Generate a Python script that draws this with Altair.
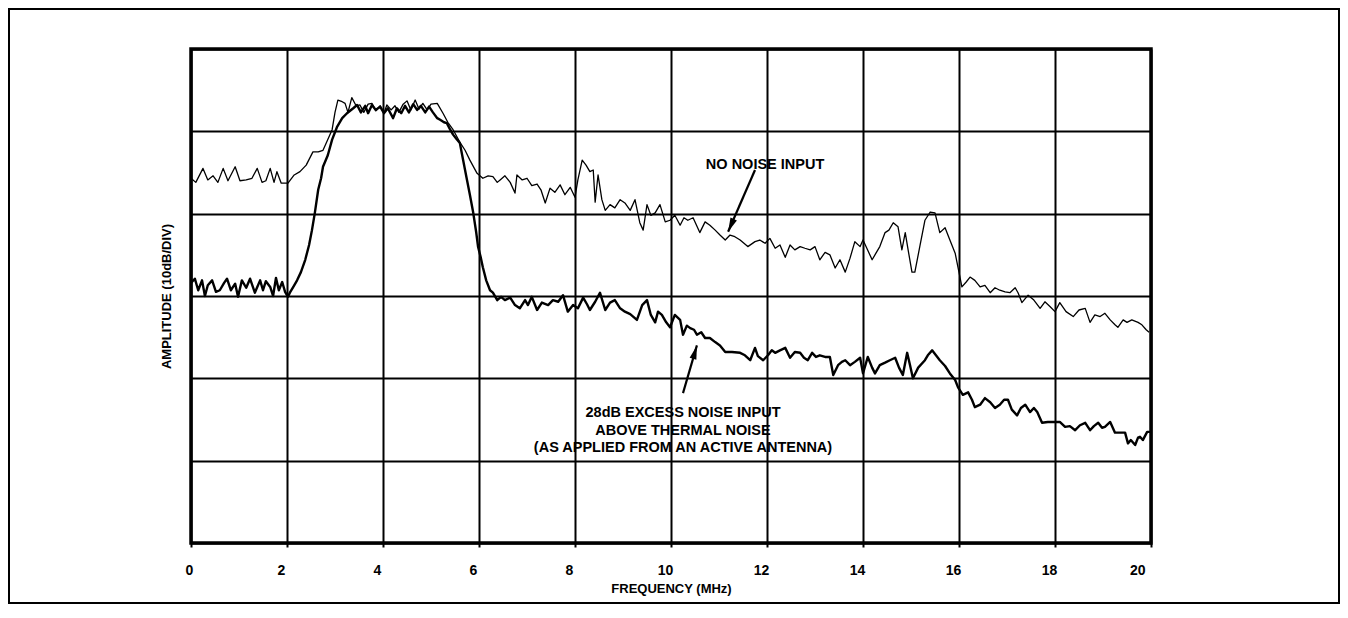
import altair as alt
import pandas as pd

# ---------------- data ----------------
freq_ticks = [0, 2, 4, 6, 8, 10, 12, 14, 16, 18, 20]
amp_grid = [0, 10, 20, 30, 40, 50, 60]  # 10 dB per division (no labels shown)

no_noise_mhz = [
    0.00, 0.10, 0.25, 0.35, 0.46, 0.56, 0.67, 0.77, 0.92, 1.02, 1.15, 1.27, 1.38, 1.48, 1.56, 1.65, 1.73, 1.79, 1.88, 2.02,
    2.15, 2.27, 2.40, 2.54, 2.65, 2.75, 2.85, 2.94, 3.00, 3.06, 3.15, 3.21, 3.27, 3.35, 3.44, 3.52, 3.60, 3.69, 3.77, 3.85,
    3.94, 4.02, 4.08, 4.17, 4.25, 4.33, 4.42, 4.50, 4.58, 4.67, 4.75, 4.83, 4.92, 5.00, 5.13, 5.25, 5.35, 5.46, 5.60, 5.71,
    5.81, 5.96, 6.08, 6.19, 6.29, 6.38, 6.44, 6.54, 6.65, 6.75, 6.79, 6.90, 7.00, 7.10, 7.21, 7.29, 7.38, 7.48, 7.58, 7.69,
    7.79, 7.90, 8.00, 8.06, 8.15, 8.23, 8.31, 8.38, 8.42, 8.48, 8.56, 8.63, 8.73, 8.83, 8.94, 9.04, 9.15, 9.25, 9.35, 9.42,
    9.50, 9.58, 9.67, 9.77, 9.88, 9.98, 10.08, 10.19, 10.27, 10.35, 10.46, 10.60, 10.71, 10.81, 10.92, 11.02, 11.13, 11.23,
    11.33, 11.44, 11.60, 11.75, 11.85, 11.96, 12.06, 12.17, 12.27, 12.38, 12.48, 12.58, 12.69, 12.79, 12.90, 13.00, 13.10,
    13.21, 13.31, 13.42, 13.52, 13.63, 13.73, 13.83, 13.94, 14.00, 14.08, 14.19, 14.27, 14.35, 14.46, 14.54, 14.63, 14.73,
    14.81, 14.88, 14.94, 15.02, 15.08, 15.19, 15.29, 15.40, 15.50, 15.60, 15.71, 15.81, 15.92, 16.02, 16.06, 16.15, 16.23,
    16.33, 16.44, 16.54, 16.65, 16.75, 16.85, 16.96, 17.06, 17.17, 17.23, 17.31, 17.44, 17.56, 17.69, 17.79, 17.90, 18.00,
    18.10, 18.23, 18.38, 18.50, 18.63, 18.73, 18.83, 18.94, 19.04, 19.15, 19.25, 19.31, 19.42, 19.50, 19.60, 19.73, 19.81,
    19.90, 19.96,
]
no_noise_db = [
    44.3, 43.8, 45.5, 44.1, 44.6, 43.8, 45.5, 44.0, 45.7, 44.0, 44.1, 44.3, 45.5, 43.8, 44.0, 45.5, 43.8, 45.1, 43.7, 43.7,
    44.7, 45.1, 45.9, 47.5, 47.5, 47.7, 49.0, 50.2, 52.3, 53.8, 53.6, 53.4, 52.3, 54.1, 53.1, 53.2, 52.3, 53.3, 53.4, 52.5,
    53.1, 52.2, 53.2, 52.6, 53.1, 52.3, 53.3, 53.7, 52.6, 53.8, 52.7, 53.4, 52.6, 53.3, 53.4, 52.2, 51.1, 50.2, 48.7, 47.7,
    46.5, 44.9, 44.3, 44.6, 44.5, 43.8, 44.1, 44.6, 43.8, 42.5, 44.7, 44.1, 44.3, 43.4, 43.6, 42.9, 41.3, 43.1, 42.6, 43.5,
    42.3, 43.2, 42.0, 44.1, 46.5, 45.9, 45.1, 45.3, 41.4, 44.7, 41.7, 40.4, 41.1, 40.7, 41.7, 41.3, 40.4, 41.7, 38.9, 38.0,
    41.1, 39.8, 40.1, 41.1, 39.0, 39.2, 39.8, 38.6, 39.5, 39.2, 39.5, 37.7, 39.0, 38.6, 38.0, 37.4, 36.8, 37.4,
    37.2, 36.8, 36.0, 36.6, 36.8, 36.4, 37.0, 35.8, 36.2, 34.7, 36.2, 35.6, 36.0, 35.8, 35.6, 36.0, 34.4,
    35.3, 35.0, 33.4, 34.4, 32.9, 34.6, 36.6, 36.0, 36.8, 35.8, 34.4, 35.2, 36.0, 37.7, 38.0, 38.9, 38.4,
    35.6, 37.7, 35.6, 32.9, 32.9, 36.2, 39.2, 40.2, 40.1, 37.7, 38.3, 36.8, 35.2, 32.3, 31.1, 31.7, 32.3,
    31.9, 31.1, 31.3, 30.4, 31.0, 30.7, 30.5, 30.4, 31.0, 30.4, 29.2, 30.1, 29.5, 28.5, 29.3, 28.7, 28.1,
    29.2, 28.1, 27.5, 28.3, 28.5, 26.8, 27.7, 27.5, 27.9, 27.1, 26.5, 26.2, 27.1, 26.8, 27.1, 26.8, 26.5,
    25.9, 25.6,
]

excess_mhz = [
    0.00, 0.08, 0.15, 0.23, 0.29, 0.35, 0.44, 0.52, 0.60, 0.69, 0.75, 0.83, 0.92, 0.98, 1.06, 1.15, 1.23, 1.33, 1.44, 1.50,
    1.56, 1.65, 1.71, 1.77, 1.83, 1.90, 1.96, 2.02, 2.06, 2.15, 2.21, 2.29, 2.38, 2.46, 2.52, 2.58, 2.65, 2.71, 2.75, 2.85,
    2.94, 3.04, 3.15, 3.25, 3.38, 3.46, 3.54, 3.63, 3.69, 3.77, 3.85, 3.94, 4.02, 4.10, 4.21, 4.29, 4.38, 4.46, 4.54, 4.63,
    4.71, 4.79, 4.88, 4.96, 5.04, 5.13, 5.19, 5.27, 5.33, 5.40, 5.46, 5.54, 5.60, 5.67, 5.75, 5.81, 5.88, 5.94, 5.98, 6.04,
    6.08, 6.15, 6.23, 6.29, 6.38, 6.46, 6.54, 6.65, 6.75, 6.85, 6.96, 7.02, 7.10, 7.21, 7.31, 7.44, 7.54, 7.65, 7.75, 7.85,
    7.96, 8.06, 8.17, 8.25, 8.31, 8.42, 8.52, 8.63, 8.73, 8.83, 8.94, 9.04, 9.15, 9.29, 9.40, 9.50, 9.58, 9.67, 9.73, 9.81,
    9.90, 9.98, 10.08, 10.19, 10.25, 10.33, 10.40, 10.48, 10.54, 10.63, 10.71, 10.81, 10.92, 11.02, 11.13, 11.27, 11.44,
    11.54, 11.65, 11.75, 11.81, 11.92, 12.02, 12.10, 12.17, 12.27, 12.38, 12.48, 12.58, 12.69, 12.77, 12.85, 12.94, 13.02,
    13.10, 13.21, 13.31, 13.38, 13.48, 13.56, 13.63, 13.73, 13.83, 13.94, 14.00, 14.10, 14.19, 14.25, 14.35, 14.46, 14.56,
    14.67, 14.75, 14.83, 14.92, 14.98, 15.04, 15.15, 15.29, 15.35, 15.44, 15.52, 15.60, 15.71, 15.81, 15.92, 15.98, 16.08,
    16.19, 16.27, 16.33, 16.44, 16.54, 16.65, 16.75, 16.85, 16.94, 17.02, 17.10, 17.21, 17.29, 17.38, 17.48, 17.56, 17.63,
    17.73, 17.85, 18.00, 18.10, 18.21, 18.31, 18.42, 18.52, 18.63, 18.73, 18.81, 18.90, 18.98, 19.04, 19.15, 19.25, 19.35,
    19.46, 19.52, 19.58, 19.67, 19.73, 19.77, 19.83, 19.92, 19.98,
]
excess_db = [
    31.6, 32.1, 30.7, 31.9, 30.0, 31.3, 31.9, 30.5, 30.7, 31.6, 32.1, 30.7, 31.5, 29.9, 31.9, 31.0, 32.1, 30.4, 31.9, 30.7,
    31.8, 31.1, 30.0, 32.2, 30.7, 31.7, 30.5, 29.9, 30.4, 31.3, 31.9, 32.9, 34.4, 36.2, 38.0, 40.1, 42.9, 44.3, 45.7, 47.1,
    49.0, 50.5, 51.6, 52.2, 52.8, 53.2, 52.3, 53.1, 52.2, 53.2, 52.6, 53.0, 52.2, 52.8, 51.6, 52.8, 52.2, 53.1, 52.3, 53.3,
    52.6, 53.1, 52.3, 53.0, 52.3, 51.6, 51.4, 51.1, 51.0, 50.2, 49.6, 49.0, 48.6, 46.5, 44.1, 42.3, 40.1, 37.8, 36.0, 34.6,
    33.5, 31.9, 30.7, 30.4, 29.5, 29.9, 29.5, 29.8, 28.9, 28.5, 29.5, 28.9, 29.9, 28.3, 29.2, 28.9, 29.5, 29.3, 30.1, 28.1,
    28.9, 28.5, 29.8, 29.0, 28.3, 29.3, 30.4, 28.3, 29.2, 29.5, 28.5, 28.1, 27.8, 27.1, 28.9, 29.5, 27.7, 26.8, 28.1, 27.7,
    26.8, 26.2, 27.7, 27.1, 25.3, 26.4, 26.1, 25.9, 25.3, 25.6, 24.9, 24.9, 24.4, 24.0, 23.2, 23.2, 23.1,
    22.8, 22.2, 23.7, 22.7, 22.2, 22.8, 23.4, 23.1, 23.4, 23.7, 22.5, 23.2, 23.1, 22.5, 22.2, 23.1, 22.6,
    22.8, 22.6, 22.6, 20.4, 21.6, 22.0, 22.2, 21.6, 22.0, 22.5, 20.6, 22.6, 21.3, 20.6, 21.6, 21.9, 22.2,
    22.5, 21.3, 20.4, 23.1, 21.6, 20.0, 21.3, 22.2, 22.8, 23.4, 22.8, 22.2, 21.5, 20.6, 19.8, 18.9, 18.0,
    18.3, 17.4, 16.5, 16.8, 17.6, 17.1, 16.4, 16.8, 17.4, 17.4, 16.2, 15.5, 16.4, 16.8, 15.9, 16.4, 15.9,
    14.6, 14.7, 14.7, 14.7, 14.1, 14.2, 13.7, 14.3, 14.6, 13.7, 14.2, 14.6, 14.0, 14.1, 14.7, 13.4, 13.4,
    13.4, 12.1, 12.5, 11.9, 12.8, 12.9, 12.5, 13.5, 13.5,
]

note_text = ["NO NOISE INPUT", "28dB EXCESS NOISE INPUT", "ABOVE THERMAL NOISE",
             "(AS APPLIED FROM AN ACTIVE ANTENNA)"]
note_mhz = [11.96, 10.25, 10.25, 10.25]
note_db = [45.9, 15.8, 13.6, 11.5]

arrow_from_mhz = [11.75, 10.25]
arrow_from_db = [45.3, 18.2]
arrow_to_mhz = [11.19, 10.54]
arrow_to_db = [37.8, 24.0]
arrow_angle = [203.5, 16.3]

# ---------------- tables ----------------
thin = pd.DataFrame({"f": no_noise_mhz, "a": no_noise_db})
thick = pd.DataFrame({"f": excess_mhz, "a": excess_db})
notes = pd.DataFrame({"f": note_mhz, "a": note_db, "t": note_text})
arrows = pd.DataFrame({"f": arrow_from_mhz, "a": arrow_from_db,
                       "f2": arrow_to_mhz, "a2": arrow_to_db, "ang": arrow_angle})
heads = pd.DataFrame({"f": arrow_to_mhz, "a": arrow_to_db, "ang": arrow_angle})

FONT = "Liberation Sans"

x_enc = alt.X("f:Q",
              scale=alt.Scale(domain=[0, 20], nice=False, zero=False),
              axis=alt.Axis(values=freq_ticks, title="FREQUENCY (MHz)", format="d",
                            grid=True, domain=False, ticks=True, tickSize=4,
                            tickWidth=2, tickColor="black", labelPadding=16,
                            labelOffset=-6, titlePadding=5))
y_enc = alt.Y("a:Q",
              scale=alt.Scale(domain=[0, 60], nice=False, zero=False),
              axis=alt.Axis(values=amp_grid, title="AMPLITUDE (10dB/DIV)",
                            labels=False, ticks=False, domain=False, grid=True,
                            titlePadding=18))

thin_line = alt.Chart(thin).mark_line(color="black", strokeWidth=1.3,
                                      strokeJoin="round").encode(x=x_enc, y=y_enc)
thick_line = alt.Chart(thick).mark_line(color="black", strokeWidth=2.4,
                                        strokeJoin="round").encode(x=x_enc, y=y_enc)

note_layer = alt.Chart(notes).mark_text(font=FONT, fontSize=14.5, fontWeight="bold",
                                        color="black", align="center",
                                        baseline="middle").encode(x="f:Q", y="a:Q", text="t:N")

arrow_lines = alt.Chart(arrows).mark_rule(color="black", strokeWidth=2.2).encode(
    x="f:Q", y="a:Q", x2="f2:Q", y2="a2:Q")

arrow_heads = alt.Chart(heads).mark_point(
    shape="M0,0L0.45,1.8L-0.45,1.8Z", filled=True, color="black", opacity=1,
    size=240, strokeWidth=0).encode(
    x="f:Q", y="a:Q", angle=alt.Angle("ang:Q", scale=None))

frame = alt.Chart(alt.Data(values=[{}])).mark_rect(
    filled=False, stroke="black", strokeWidth=2).encode(
    x=alt.value(-182), x2=alt.value(1148), y=alt.value(-40), y2=alt.value(554))

chart = alt.layer(thin_line, thick_line, arrow_lines, arrow_heads, note_layer, frame).properties(
    width=960, height=494,
    autosize=alt.AutoSizeParams(type="none"),
    padding={"left": 183, "top": 41, "right": 189, "bottom": 61},
    background="white",
).configure_view(
    stroke="black", strokeWidth=3.5
).configure_axis(
    gridColor="black", gridWidth=2, gridOpacity=1,
    labelFont=FONT, labelFontSize=14, labelFontWeight="bold", labelColor="black",
    titleFont=FONT, titleFontSize=13, titleFontWeight="bold", titleColor="black",
)

chart.save("out.html", embed_options={"renderer": "svg", "actions": False})
